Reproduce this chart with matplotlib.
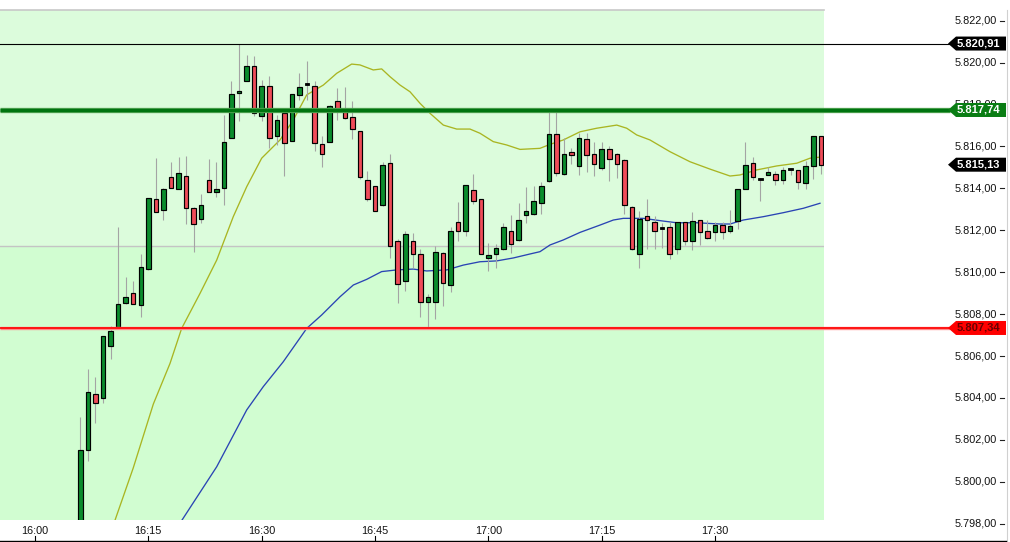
import matplotlib
matplotlib.use('Agg')
import matplotlib.pyplot as plt
import matplotlib.transforms as mtransforms
from matplotlib.patches import Polygon, Rectangle

plt.rcParams['font.family'] = ['Liberation Sans', 'DejaVu Sans']

# ---------------- data (minutes after 16:00, prices) ----------------
first_minute = 6  # first visible candle 16:06, one candle per minute
opens = [5796.0, 5801.5, 5804.2, 5804.0, 5806.5, 5807.4, 5808.55, 5809.0, 5808.45, 5810.15,
         5813.5, 5812.95, 5814.55, 5813.95, 5814.6, 5813.05, 5812.55, 5814.4, 5813.85, 5814.0,
         5816.4, 5818.55, 5819.1, 5819.85, 5817.45, 5818.9, 5816.5, 5817.6, 5816.25, 5818.45,
         5818.95, 5818.9, 5816.1, 5816.2, 5818.15, 5817.65, 5817.4, 5816.75, 5814.4, 5814.1,
         5813.2, 5815.2, 5811.5, 5809.6, 5811.5, 5810.85, 5808.6, 5808.6, 5810.9, 5809.4,
         5812.4, 5811.95, 5813.9, 5813.5, 5810.7, 5810.85, 5811.1, 5811.95, 5811.55, 5812.75,
         5812.8, 5813.3, 5814.35, 5816.6, 5814.7, 5815.75, 5815.05, 5816.35, 5815.65, 5814.95,
         5815.9, 5815.65, 5815.35, 5813.1, 5810.85, 5812.7, 5812.4, 5812.1, 5812.15, 5811.1,
         5812.4, 5811.5, 5812.5, 5811.95, 5811.9, 5812.25, 5811.95, 5812.45, 5813.95, 5815.2,
         5814.45, 5814.65, 5814.7, 5814.4, 5814.92, 5814.9, 5814.25, 5815.05, 5816.5]
highs = [5803.1, 5805.4, 5805.0, 5806.95, 5807.45, 5812.15, 5809.75, 5809.6, 5810.85, 5813.55,
         5815.45, 5814.0, 5815.25, 5815.5, 5815.55, 5813.1, 5813.75, 5815.4, 5815.25, 5817.5,
         5819.1, 5820.91, 5820.35, 5820.3, 5819.15, 5819.35, 5817.5, 5817.6, 5818.5, 5819.5,
         5820.1, 5819.1, 5816.5, 5818.0, 5818.8, 5818.85, 5818.15, 5816.75, 5814.85, 5814.1,
         5815.25, 5815.65, 5811.6, 5811.95, 5811.85, 5811.1, 5808.95, 5811.25, 5810.95, 5812.15,
         5813.35, 5814.15, 5814.7, 5813.5, 5811.4, 5811.35, 5812.35, 5812.75, 5813.3, 5814.05,
         5814.1, 5814.3, 5817.8, 5817.65, 5816.4, 5815.95, 5816.65, 5816.65, 5816.2, 5816.2,
         5816.0, 5815.7, 5815.4, 5813.15, 5812.9, 5813.5, 5812.7, 5812.35, 5812.4, 5812.4,
         5812.4, 5812.85, 5812.5, 5812.5, 5812.4, 5812.4, 5812.95, 5813.95, 5816.2, 5815.5,
         5814.5, 5815.0, 5814.85, 5815.0, 5814.95, 5814.9, 5815.3, 5816.5, 5816.5]
lows = [5795.5, 5801.0, 5802.8, 5803.75, 5805.85, 5807.4, 5808.5, 5808.5, 5807.85, 5810.1,
        5812.85, 5812.5, 5814.0, 5813.95, 5812.3, 5810.95, 5812.35, 5813.85, 5813.6, 5813.2,
        5816.4, 5817.2, 5819.1, 5817.45, 5817.2, 5815.95, 5816.05, 5814.6, 5816.25, 5818.2,
        5818.2, 5815.8, 5815.0, 5816.2, 5817.25, 5817.3, 5816.35, 5814.45, 5813.4, 5812.9,
        5813.15, 5810.7, 5808.55, 5809.1, 5810.2, 5807.85, 5807.34, 5807.75, 5808.4, 5809.05,
        5811.5, 5811.75, 5813.25, 5810.85, 5810.05, 5810.2, 5811.05, 5810.9, 5811.5, 5812.35,
        5812.75, 5812.8, 5814.3, 5814.6, 5814.65, 5815.15, 5814.65, 5814.8, 5814.6, 5814.9,
        5814.35, 5814.5, 5812.8, 5811.05, 5810.2, 5811.1, 5811.1, 5811.15, 5810.65, 5810.85,
        5811.3, 5811.05, 5811.3, 5811.6, 5811.5, 5811.6, 5811.85, 5812.05, 5813.95, 5814.4,
        5813.4, 5814.65, 5814.15, 5814.2, 5814.65, 5813.95, 5813.95, 5814.45, 5814.7]
closes = [5801.5, 5804.3, 5803.75, 5806.95, 5807.2, 5808.5, 5808.8, 5808.5, 5810.25, 5813.55,
          5812.85, 5813.95, 5814.0, 5814.75, 5813.05, 5812.3, 5813.2, 5813.85, 5813.95, 5816.2,
          5818.5, 5818.65, 5819.85, 5817.6, 5818.9, 5816.4, 5817.25, 5816.15, 5818.5, 5818.85,
          5818.97, 5816.15, 5815.65, 5817.95, 5817.8, 5817.35, 5816.85, 5814.55, 5813.5, 5812.9,
          5815.1, 5811.25, 5809.45, 5811.8, 5810.85, 5808.6, 5808.8, 5810.95, 5809.5, 5811.95,
          5811.95, 5814.15, 5813.4, 5810.85, 5810.8, 5811.15, 5812.15, 5811.35, 5812.5, 5812.9,
          5813.4, 5814.1, 5816.6, 5814.75, 5815.65, 5815.6, 5816.4, 5815.6, 5815.15, 5815.9,
          5815.4, 5815.15, 5813.2, 5811.1, 5812.55, 5812.5, 5811.95, 5812.1, 5810.85, 5812.4,
          5811.5, 5812.45, 5811.9, 5811.65, 5812.25, 5811.9, 5812.2, 5813.95, 5815.1, 5814.55,
          5814.45, 5814.8, 5814.4, 5814.9, 5814.92, 5814.3, 5815.05, 5816.5, 5815.13]

# fast moving average (olive)
ma_fast_t = [10.0, 13.0, 15.66, 17.87, 19.41, 21.84, 24.05, 26.24, 28.02, 30.0, 32.42, 34.18,
             35.96, 38.16, 39.93, 41.91, 43.01, 44.77, 45.88, 46.98, 48.31, 49.63, 50.95,
             52.28, 54.04, 55.81, 57.57, 58.89, 60.65, 62.43, 64.19, 66.83, 68.16, 69.92,
             72.13, 74.34, 76.99, 78.31, 79.63, 81.39, 84.04, 86.69, 89.33, 91.98, 93.3,
             95.51, 98.16, 100.81, 102.57, 104.1]
ma_fast_v = [5797.56, 5800.66, 5803.71, 5805.65, 5807.32, 5808.99, 5810.58, 5812.65, 5814.08,
             5815.44, 5816.31, 5817.26, 5818.46, 5818.93, 5819.49, 5819.93, 5819.89, 5819.65,
             5819.70, 5819.33, 5818.93, 5818.61, 5818.06, 5817.58, 5817.02, 5816.83, 5816.83,
             5816.63, 5816.23, 5816.07, 5815.86, 5815.91, 5816.1, 5816.31, 5816.7, 5816.87,
             5817.02, 5816.87, 5816.55, 5816.31, 5815.75, 5815.27, 5814.92, 5814.59, 5814.64,
             5814.88, 5815.07, 5815.2, 5815.44, 5815.5]
# slow moving average (blue)
ma_slow_t = [18.0, 19.41, 24.05, 28.02, 30.21, 32.86, 35.96, 37.94, 40.37, 42.13, 43.9, 45.88,
             47.87, 50.07, 51.84, 54.49, 56.68, 58.89, 61.1, 63.3, 65.51, 66.83, 68.16, 69.92,
             72.13, 74.78, 76.54, 77.86, 80.5, 83.15, 84.93, 87.57, 90.66, 91.98, 93.74,
             96.39, 99.03, 101.68, 103.89]
ma_slow_v = [5797.37, 5798.15, 5800.72, 5803.43, 5804.54, 5805.73, 5807.32, 5807.96, 5808.83,
             5809.39, 5809.66, 5810.03, 5810.11, 5810.15, 5810.06, 5810.11, 5810.34, 5810.5,
             5810.54, 5810.68, 5810.87, 5810.98, 5811.3, 5811.54, 5811.9, 5812.25, 5812.49,
             5812.57, 5812.57, 5812.44, 5812.36, 5812.36, 5812.3, 5812.3, 5812.49, 5812.65,
             5812.84, 5813.05, 5813.29]

day_high = 5820.91
resistance = 5817.74
day_low = 5807.34
last_price = 5815.13
zone_level = 5811.25

y_ticks = [5798, 5800, 5802, 5804, 5806, 5808, 5810, 5812, 5814, 5816, 5818, 5820, 5822]
x_tick_minutes = [0, 15, 30, 45, 60, 75, 90]
x_tick_labels = ['16:00', '16:15', '16:30', '16:45', '17:00', '17:15', '17:30']

# ---------------- layout ----------------
W, H = 1010, 542
PX_PER_MIN = 7.556
X0_PX = 35.0          # pixel of 16:00
PX_PER_UNIT = 20.96
Y_REF_PX, Y_REF_V = 20.7, 5822.0
PL, PR, PT, PB = 0, 824, 10, 520

def px2min(px):
    return (px - X0_PX) / PX_PER_MIN

def py2v(py):
    return Y_REF_V - (py - Y_REF_PX) / PX_PER_UNIT

fig = plt.figure(figsize=(W / 100, H / 100), dpi=100)
fig.patch.set_facecolor('white')
ax = fig.add_axes([PL / W, 1 - PB / H, (PR - PL) / W, (PB - PT) / H])
ax.set_xlim(px2min(PL), px2min(PR))
ax.set_ylim(py2v(PB), py2v(PT))
ax.set_axis_off()

tr_fy = mtransforms.blended_transform_factory(fig.transFigure, ax.transData)
tr_xf = mtransforms.blended_transform_factory(ax.transData, fig.transFigure)

# background zones
ax.add_patch(Rectangle((0, 0), 1, 1, transform=ax.transAxes, facecolor='#d1fdd1',
                       edgecolor='none', zorder=0))
ax.axhspan(zone_level, py2v(PT), facecolor='#dcfcdc', edgecolor='none', zorder=0.5)
ax.axhline(zone_level, color='#c4c4c4', lw=1.0, zorder=1)
ax.axhline(py2v(PT), color='#c8c8c8', lw=1.2, zorder=1, clip_on=False)

# moving averages
ax.plot(ma_fast_t, ma_fast_v, color='#a9b522', lw=0.95, zorder=2)
ax.plot(ma_slow_t, ma_slow_v, color='#2a44b4', lw=0.95, zorder=2)

# candles
body_w = 0.6
for i in range(len(opens)):
    x = first_minute + i
    o, h, l, c = opens[i], highs[i], lows[i], closes[i]
    ax.vlines(x, l, h, color='#a4a4a4', lw=0.8, zorder=3)
    if abs(c - o) < 0.06:
        ax.add_patch(Rectangle((x - body_w / 2, (o + c) / 2 - 0.05), body_w, 0.1,
                               facecolor='black', edgecolor='black', lw=0.6, zorder=4))
    else:
        fc = '#0a8c2c' if c > o else '#ef4c59'
        ax.add_patch(Rectangle((x - body_w / 2, min(o, c)), body_w, abs(c - o),
                               facecolor=fc, edgecolor='black', lw=0.85, zorder=4))

# horizontal level lines (extend into price scale up to the tags)
ax.plot([0, 950 / W], [day_high, day_high], transform=tr_fy, color='black', lw=0.8,
        zorder=6, clip_on=False)
ax.plot([0, 950 / W], [resistance, resistance], transform=tr_fy, color='#55a555', lw=3.8,
        zorder=6, clip_on=False, solid_capstyle='butt')
ax.plot([0, 950 / W], [resistance, resistance], transform=tr_fy, color='#007410', lw=2.4,
        zorder=6.1, clip_on=False, solid_capstyle='butt')
ax.plot([0, 950 / W], [day_low, day_low], transform=tr_fy, color='#ff8c8c', lw=2.4,
        zorder=6, clip_on=False, solid_capstyle='butt')
ax.plot([0, 950 / W], [day_low, day_low], transform=tr_fy, color='#ff0000', lw=1.2,
        zorder=6.1, clip_on=False, solid_capstyle='butt')

def fmt(v):
    s = f"{v:,.2f}"
    return s.replace(',', 'X').replace('.', ',').replace('X', '.')

# price scale labels
for v in y_ticks:
    ax.text(997 / W, v, fmt(v), transform=tr_fy, ha='right', va='center', fontsize=7.8,
            color='#111111', zorder=7, clip_on=False)
    ax.plot([1000 / W, 1004 / W], [v, v], transform=tr_fy, color='#222222', lw=0.8,
            zorder=7, clip_on=False)

# price tags
def tag(v, fc, tc):
    hh = 7.0 / PX_PER_UNIT
    xs = [948, 956, 1006, 1006, 956]
    ys = [v, v + hh, v + hh, v - hh, v - hh]
    ax.add_patch(Polygon(list(zip([x / W for x in xs], ys)), closed=True, transform=tr_fy,
                         facecolor=fc, edgecolor='none', zorder=10, clip_on=False))
    ax.text(978 / W, v, fmt(v), transform=tr_fy, ha='center', va='center', fontsize=8,
            fontweight='bold', color=tc, zorder=11, clip_on=False)

tag(day_high, 'black', 'white')
tag(resistance, '#0a7d14', 'white')
tag(last_price, 'black', 'white')
tag(day_low, '#ff0000', '#6a0000')

# right border of price scale
fig.add_artist(plt.Line2D([1006.5 / W, 1006.5 / W], [1 - 541 / H, 1 - 10 / H],
                          transform=fig.transFigure, color='#d0d0d0', lw=0.8))

# time axis
fig.add_artist(plt.Line2D([0, 1006 / W], [1 - 541 / H, 1 - 541 / H],
                          transform=fig.transFigure, color='black', lw=1.0))
for m, lab in zip(x_tick_minutes, x_tick_labels):
    ax.text(m, 1 - 530.5 / H, lab, transform=tr_xf, ha='center', va='center', fontsize=7.8,
            color='#111111', clip_on=False)
    ax.plot([m, m], [1 - 541 / H, 1 - 535.5 / H], transform=tr_xf, color='black', lw=0.8,
            clip_on=False)

fig.savefig('out.png', dpi=100, facecolor='white')
